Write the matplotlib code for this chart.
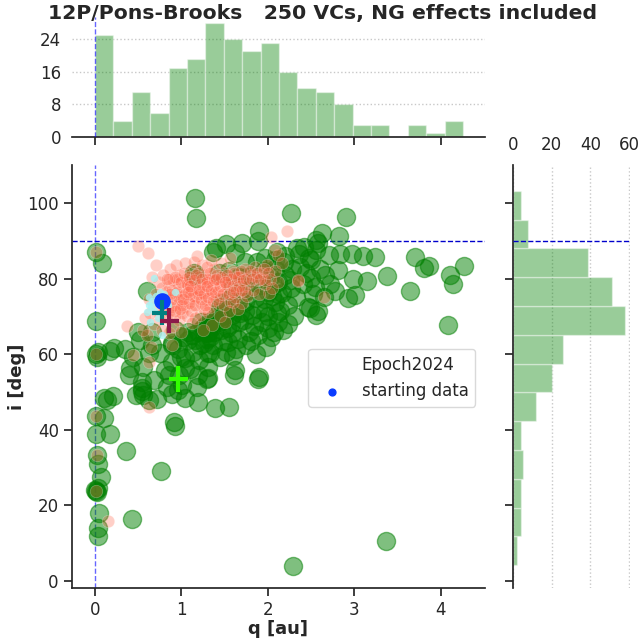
import numpy as np
import matplotlib
matplotlib.use("Agg")
import matplotlib.pyplot as plt

plt.rcParams.update({
    "font.family": "DejaVu Sans",
    "font.size": 12,
    "axes.edgecolor": "#262626",
    "axes.labelcolor": "#262626",
    "text.color": "#262626",
    "xtick.color": "#262626",
    "ytick.color": "#262626",
    "axes.linewidth": 1.25,
    "xtick.major.width": 1.25,
    "ytick.major.width": 1.25,
    "xtick.major.size": 6,
    "ytick.major.size": 6,
})

# ---- green: 250 VCs (q [au], i [deg]) ----
green_q = [
    0.01, 0.08, 0.01, 0.01, 0.02, 0.03, 0.01, 0.10, 0.01, 0.17, 0.02, 0.04, 0.07,
    0.01, 0.02, 0.00, 0.03, 0.05, 0.03, 0.03, 0.10, 0.21, 0.14, 0.22, 0.17,
    0.35, 0.36, 0.39, 0.40,
    0.43, 0.47, 0.54, 0.56, 0.54, 0.44, 0.52, 0.56, 0.54, 0.60, 0.62, 0.62, 0.50,
    0.72, 0.66, 0.76, 0.75, 0.81, 0.83, 0.68, 0.66,
    0.89, 0.91, 0.92, 1.01, 0.89, 1.00, 0.96, 0.96, 0.89, 0.89, 1.04, 1.04, 0.97,
    0.85, 1.04, 0.93, 1.02,
    1.16, 1.17, 1.14, 1.16, 1.19, 1.08, 1.19, 1.21, 1.08, 1.19, 1.10, 1.18, 1.16,
    1.25, 1.22, 1.12, 1.27, 1.20, 1.13, 1.26,
    1.37, 1.43, 1.39, 1.29, 1.31, 1.43, 1.31, 1.31, 1.31, 1.33, 1.45, 1.33, 1.40,
    1.30, 1.35, 1.38, 1.42, 1.46, 1.48, 1.34, 1.45, 1.40, 1.29, 1.36, 1.47, 1.44,
    1.32, 1.48,
    1.51, 1.62, 1.55, 1.61, 1.50, 1.58, 1.66, 1.54, 1.60, 1.62, 1.52, 1.56, 1.64,
    1.68, 1.53, 1.58, 1.65, 1.69, 1.60, 1.55, 1.67, 1.51, 1.63, 1.57,
    1.70, 1.87, 1.89, 1.85, 1.73, 1.81, 1.89, 1.75, 1.90, 1.90, 1.89, 1.78, 1.72,
    1.84, 1.78, 1.88, 1.76, 1.83, 1.80, 1.86, 1.74, 1.74,
    2.10, 2.08, 2.06, 1.93, 1.97, 2.08, 2.12, 2.00, 1.95, 2.02, 2.05, 1.95, 2.00,
    2.10, 1.93, 2.04, 1.98, 2.12, 2.07, 1.96, 2.00, 2.08, 2.11,
    2.33, 2.20, 2.27, 2.16, 2.23, 2.23, 2.27, 2.30, 2.18, 2.28, 2.14, 2.29, 2.25,
    2.32, 2.17, 2.20,
    2.37, 2.50, 2.50, 2.46, 2.42, 2.47, 2.49, 2.54, 2.40, 2.44, 2.36, 2.52,
    2.56, 2.56, 2.63, 2.56, 2.58, 2.70, 2.66, 2.65, 2.60, 2.72, 2.58,
    2.90, 2.82, 2.97, 2.83, 2.81, 2.92, 2.77,
    3.10, 3.14, 3.01, 2.98,
    3.24, 3.38, 3.37,
    3.70, 3.80, 3.64, 3.86,
    4.10, 4.14, 4.27, 4.08,
]
green_i = [
    87.0, 84.0, 68.8, 60.0, 59.3, 60.5, 43.7, 43.0, 38.8, 38.8, 33.3, 30.9, 27.6,
    23.8, 23.5, 24.2, 24.6, 17.9, 13.9, 12.0, 48.5, 49.0, 48.0, 61.6, 60.8,
    61.5, 34.5, 54.5, 56.3,
    16.4, 49.2, 50.3, 49.2, 52.7, 59.3, 63.8, 56.7, 51.0, 76.7, 60.2, 47.8, 66.0,
    48.1, 66.0, 29.1, 60.2, 55.8, 51.4, 53.2, 62.4,
    49.6, 42.1, 41.1, 51.9, 62.9, 59.3, 50.5, 61.5, 62.4, 58.0, 58.9, 56.3, 54.5,
    54.5, 48.3, 66.5, 64.5,
    101.2, 96.0, 81.4, 81.0, 47.4, 66.0, 66.0, 62.4, 63.8, 54.5, 56.2, 51.4, 63.8,
    67.0, 68.5, 65.0, 67.5, 58.5, 60.5, 63.0,
    87.1, 81.4, 45.7, 53.4, 66.0, 68.6, 60.2, 56.7, 53.6, 60.2, 59.3, 64.6, 88.2,
    64.0, 67.5, 66.0, 71.0, 66.5, 63.5, 68.0, 72.5, 69.0, 65.5, 62.5, 73.5, 69.8,
    68.5, 70.0,
    89.2, 86.7, 46.0, 54.5, 70.4, 70.4, 68.6, 63.3, 59.4, 55.8, 72.5, 74.5, 73.0,
    71.0, 67.0, 65.5, 64.0, 76.0, 78.0, 82.0, 80.5, 60.5, 61.5, 68.0,
    89.3, 84.5, 53.4, 74.8, 73.9, 70.4, 65.1, 62.4, 54.1, 92.7, 90.0, 77.0, 69.0,
    67.5, 66.0, 72.0, 80.5, 79.0, 63.5, 60.0, 71.5, 84.5,
    87.1, 84.9, 78.3, 78.3, 71.2, 73.9, 68.6, 66.8, 82.0, 80.5, 75.5, 74.5, 70.0,
    71.0, 68.5, 64.5, 62.0, 79.0, 66.0, 85.5, 76.5, 82.5, 76.0,
    88.0, 81.0, 77.4, 76.1, 73.0, 68.1, 97.4, 70.0, 84.5, 82.5, 71.5, 4.0, 79.5,
    75.0, 66.5, 86.0,
    83.1, 84.9, 80.1, 72.6, 88.4, 85.5, 72.3, 77.9, 78.5, 81.5, 86.5, 76.0,
    87.5, 70.4, 92.0, 90.2, 71.3, 86.2, 80.9, 75.0, 82.5, 78.5, 89.5,
    96.2, 91.3, 86.4, 86.4, 82.3, 74.8, 76.7,
    86.1, 79.4, 75.7, 79.8,
    85.6, 80.7, 10.7,
    85.6, 82.7, 76.7, 83.4,
    80.9, 78.5, 83.2, 67.7,
]

# ---- red: VCs of the other set ----
red_q = [
    0.50, 0.61, 0.71, 0.37, 0.15, 0.63, 2.22, 2.04, 0.01, 0.01, 0.01, 0.02, 0.01,
    0.65, 0.60, 0.55, 0.85, 0.44, 0.62, 0.89, 2.12, 2.35, 2.65, 2.35, 2.08, 2.01,
    0.82, 0.85, 0.88, 0.90, 0.92, 0.95, 0.96, 0.98, 1.00, 1.02, 1.03, 1.05, 1.07,
    1.08, 1.10, 1.12, 1.13, 1.15, 1.17, 1.18, 1.20, 1.22, 1.23, 1.25, 1.27, 1.28,
    1.30, 1.32, 1.33, 1.35, 1.37, 1.38, 1.40, 1.42, 1.44, 1.45, 1.47, 1.49, 1.50,
    1.52, 1.54, 1.56, 1.58, 1.60, 1.62, 1.64, 1.66, 1.68, 1.70, 1.72, 1.74, 1.76,
    1.78, 1.80, 1.83, 1.85, 1.88, 1.90, 1.93, 1.96, 1.99, 2.02, 2.05, 2.08, 2.12,
    2.16,
    0.72, 0.75, 0.78, 0.80, 0.83, 0.86, 0.70, 0.74, 0.79, 0.87, 0.93, 0.97, 1.01,
    1.06, 1.11, 1.16, 1.21, 1.26, 0.68, 0.77, 0.90, 1.00, 0.94, 1.04, 1.14, 1.24,
    1.34, 1.46, 1.56, 1.18, 1.30,
    1.35, 1.12, 1.60, 1.73, 1.31, 1.45, 1.55, 1.65, 1.25, 1.50,
    0.66, 0.62, 0.64, 0.58, 0.95, 1.09, 1.19, 1.29, 1.39, 1.53, 1.63, 1.86, 1.97,
    0.84, 0.86, 0.89, 0.91, 0.93, 0.95, 0.97, 0.99, 1.01, 1.03, 1.04, 1.06, 1.09,
    1.09, 1.11, 1.13, 1.14, 1.16, 1.17, 1.19, 1.21, 1.22, 1.24, 1.26, 1.27, 1.29,
    1.31, 1.33, 1.34, 1.36, 1.38, 1.39, 1.41, 1.43, 1.44, 1.46, 1.48, 1.51, 1.53,
    1.55, 1.57, 1.59, 1.61, 1.63, 1.65, 1.67, 1.69, 1.71, 1.75, 1.79, 1.82, 1.87,
    1.91, 1.95, 2.00, 0.88, 0.92, 0.98, 1.02, 1.07, 0.81, 0.83, 0.87, 1.10, 1.20,
    1.30, 1.40, 1.50, 1.60, 1.70,
]
red_i = [
    88.6, 86.7, 83.6, 67.5, 16.0, 45.9, 92.7, 91.1, 87.0, 60.0, 43.7, 33.3, 23.8,
    62.0, 65.0, 66.5, 65.5, 59.8, 58.0, 62.4, 86.2, 79.4, 75.0, 79.6, 87.6, 76.1,
    76.5, 78.0, 74.5, 79.5, 76.0, 73.5, 78.5, 81.0, 75.5, 77.5, 72.5, 80.0, 74.0,
    78.0, 76.0, 82.0, 73.0, 79.0, 75.0, 77.5, 80.5, 73.5, 76.5, 78.5, 81.0, 74.5,
    77.0, 79.5, 72.5, 76.0, 78.0, 82.5, 74.5, 77.0, 80.0, 75.5, 78.5, 73.0, 81.5,
    76.5, 79.0, 74.0, 77.5, 82.0, 75.0, 79.5, 76.5, 80.5, 73.5, 78.0, 82.5, 75.5,
    79.0, 81.0, 77.0, 83.0, 79.5, 76.0, 81.5, 78.5, 83.5, 80.0, 77.5, 82.0, 79.0,
    84.0,
    73.0, 70.5, 77.5, 72.0, 69.5, 71.5, 76.0, 79.0, 81.0, 82.5, 70.5, 69.0, 71.0,
    70.0, 71.5, 69.5, 70.5, 72.0, 68.0, 66.5, 67.5, 66.0, 83.5, 84.0, 84.5, 83.5,
    85.0, 84.0, 85.5, 86.0, 83.0,
    67.7, 68.2, 73.9, 76.5, 71.2, 70.0, 71.5, 72.0, 66.5, 68.5,
    80.5, 74.5, 71.0, 69.5, 80.0, 79.5, 81.5, 80.0, 79.5, 80.0, 80.5, 80.5, 79.5,
    75.0, 80.0, 77.0, 73.0, 80.5, 76.5, 74.5, 79.0, 73.0, 81.5, 76.0, 78.5, 73.5,
    80.5, 77.0, 75.5, 79.5, 73.0, 81.0, 76.0, 78.5, 74.5, 80.0, 76.0, 73.0, 79.0,
    75.0, 81.5, 77.0, 74.0, 79.5, 76.5, 81.0, 73.5, 78.0, 80.5, 76.0, 78.5, 81.0,
    76.0, 80.0, 78.0, 81.5, 77.0, 80.5, 78.0, 82.0, 79.5, 80.0, 82.0, 80.0, 81.5,
    80.0, 82.5, 81.5, 72.5, 71.5, 72.0, 74.5, 76.5, 74.0, 80.0, 76.0, 78.0, 77.0,
    78.0, 80.0, 79.0, 76.5, 77.0,
]

# ---- cyan: small cloud around the nominal orbit ----
cyan_q = [0.68, 0.63, 0.93, 0.60, 0.64, 0.77, 0.66, 0.70, 0.72, 0.65, 0.75, 0.68,
          0.62, 0.73, 0.80, 0.84]
cyan_i = [80.2, 75.2, 76.4, 71.1, 68.6, 65.1, 74.0, 75.5, 73.5, 72.5, 76.5, 71.5,
          73.0, 69.5, 76.0, 73.0]

# starting data and reference orbits (q, i)
start_q, start_i = [0.78], [74.1]
ref_q = [0.77, 0.86, 0.963]
ref_i = [71.0, 68.9, 53.4]
ref_colors = ["#008080", "#8b1a4a", "#33ff00"]

# ---- marginal histogram counts ----
q_counts = [25, 4, 11, 6, 17, 19, 28, 24, 21, 23, 16, 12, 11, 8, 3, 3, 0, 3, 1, 4]
q_range = (0.0, 4.255)
i_counts = [2, 4, 4, 5, 4, 12, 20, 26, 58, 51, 39, 8, 4]
i_range = (4.2, 103.25)

hist_color = "green"

fig = plt.figure(figsize=(6.4, 6.42), dpi=100)
ax = fig.add_axes([0.1125, 0.0841, 0.6453, 0.6589])
ax_top = fig.add_axes([0.1125, 0.7866, 0.6453, 0.1869], sharex=ax)
ax_right = fig.add_axes([0.8016, 0.0841, 0.1828, 0.6589], sharey=ax)

# main scatter
ax.scatter(green_q, green_i, s=170, color="green", alpha=0.5, linewidths=1,
           zorder=2)
ax.scatter(red_q, red_i, s=80, color="tomato", alpha=0.3, edgecolors="white",
           linewidths=0.5, zorder=3)
ax.scatter(cyan_q, cyan_i, s=28, color="#a8f4f4", alpha=0.8, linewidths=0,
           zorder=4)
ax.plot([], [], " ", label="Epoch2024")
ax.scatter(start_q, start_i, s=120, color="#0a3cff", zorder=5,
           label="starting data")
for q, i, c in zip(ref_q, ref_i, ref_colors):
    ax.errorbar([q], [i], xerr=0.11, yerr=3.4, color=c, lw=3, capsize=0,
                fmt="none", zorder=6)

ax.axvline(0, color="blue", ls="--", lw=1, alpha=0.6, zorder=1)
ax.axhline(90, color="#0000cc", ls="--", lw=1, zorder=1)

ax.set_xlim(-0.266, 4.509)
ax.set_ylim(-1.85, 110.05)
ax.set_xticks([0, 1, 2, 3, 4])
ax.set_yticks([0, 20, 40, 60, 80, 100])
ax.set_xlabel("q [au]", fontsize=13, fontweight="bold", labelpad=0.5)
ax.set_ylabel("i [deg]", fontsize=13, fontweight="bold", labelpad=1)
ax.spines[["top", "right"]].set_visible(False)
ax.legend(loc="upper right", bbox_to_anchor=(0.976, 0.565), borderaxespad=0,
          fontsize=12, markerscale=0.45, frameon=True, edgecolor="#d0d0d0")

# top histogram
q_edges = np.linspace(q_range[0], q_range[1], len(q_counts) + 1)
ax_top.bar(q_edges[:-1], q_counts, width=np.diff(q_edges), align="edge",
           color=hist_color, alpha=0.4, edgecolor="white", linewidth=1,
           zorder=2)
ax_top.axvline(0, color="blue", ls="--", lw=1, alpha=0.6, zorder=3)
ax_top.set_ylim(0, 29.4)
ax_top.set_yticks([0, 8, 16, 24])
ax_top.grid(axis="y", ls=":", color="#c8c8c8", lw=1)
ax_top.tick_params(axis="y", length=0, pad=8)
ax_top.tick_params(axis="x", labelbottom=False)
ax_top.spines[["top", "right", "left"]].set_visible(False)

fig.text(0.504, 1 - 13.5 / 642, "12P/Pons-Brooks   250 VCs, NG effects included",
         fontsize=14.7, fontweight="bold", ha="center", va="center")

# right histogram
i_edges = np.linspace(i_range[0], i_range[1], len(i_counts) + 1)
ax_right.barh(i_edges[:-1], i_counts, height=np.diff(i_edges), align="edge",
              color=hist_color, alpha=0.4, edgecolor="white", linewidth=1,
              zorder=2)
ax_right.axhline(90, color="#0000cc", ls="--", lw=1, zorder=3)
ax_right.set_xlim(0, 60.5)
ax_right.set_xticks([0, 20, 40, 60])
ax_right.grid(axis="x", ls=":", color="#c8c8c8", lw=1)
ax_right.xaxis.tick_top()
ax_right.tick_params(axis="x", length=0, pad=8)
ax_right.tick_params(axis="y", labelleft=False)
ax_right.spines[["top", "right", "bottom"]].set_visible(False)

fig.savefig("out.png", dpi=100)
